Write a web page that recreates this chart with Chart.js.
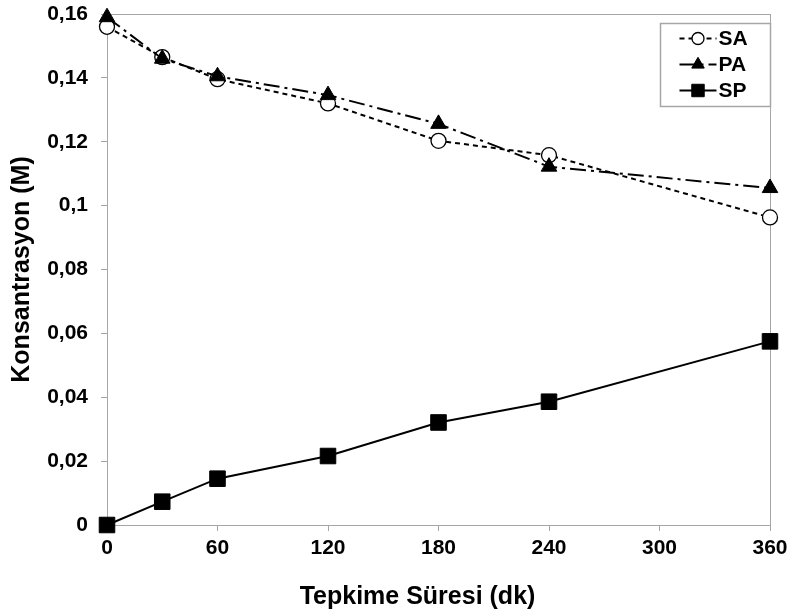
<!DOCTYPE html>
<html>
<head>
<meta charset="utf-8">
<script src="https://cdn.jsdelivr.net/npm/chart.js@4/dist/chart.umd.min.js"></script>
<style>
  html, body { margin: 0; padding: 0; background: #fff; }
  #wrap { width: 793px; height: 616px; }
</style>
</head>
<body>
<div id="wrap"><canvas id="grafik"></canvas></div>
<script>
// Tepkime süresi (dk) ve derişimler (M)
const sureler = [0, 30, 60, 120, 180, 240, 360]
const saDegerleri = [0.156, 0.1465, 0.1396, 0.132, 0.1203, 0.1158, 0.0963]
const paDegerleri = [0.159, 0.146, 0.1405, 0.1346, 0.1256, 0.1122, 0.1055]
const spDegerleri = [0, 0.0073, 0.0145, 0.0216, 0.0321, 0.0386, 0.0575]
const xTikler = [0, 60, 120, 180, 240, 300, 360]
const yTikler = [0, 0.02, 0.04, 0.06, 0.08, 0.1, 0.12, 0.14, 0.16]
const xBaslik = 'Tepkime Süresi (dk)'

const FONT = '"Liberation Sans", Arial, sans-serif'
const GRI = '#a6a6a6'

function noktalar(ys) {
    return sureler.map((x, i) => ({ x, y: ys[i] }))
}

// virgüllü ondalık gösterim (0,16 gibi)
function virgullu(v) {
    return String(Number(v.toFixed(2))).replace('.', ',')
}

// Çizim alanının çerçevesi
const cerceve = {
    id: 'cerceve',
    beforeDatasetsDraw(chart) {
        const a = chart.chartArea
        const ctx = chart.ctx
        ctx.save()
        ctx.strokeStyle = GRI
        ctx.lineWidth = 1
        ctx.strokeRect(Math.round(a.left) + 0.5, Math.round(a.top) + 0.5, Math.round(a.right - a.left), Math.round(a.bottom - a.top))
        ctx.restore()
    }
}

// x ekseni başlığı biraz sola kaymış duruyor, elle yazıyoruz
const xEkseniBasligi = {
    id: 'xEkseniBasligi',
    afterDraw(chart) {
        const a = chart.chartArea
        const ctx = chart.ctx
        ctx.save()
        ctx.fillStyle = '#000'
        ctx.font = 'bold 25px ' + FONT
        ctx.textAlign = 'center'
        ctx.textBaseline = 'middle'
        ctx.fillText(xBaslik, (a.left + a.right) / 2 - 21, chart.height - 19)
        ctx.restore()
    }
}

// Sağ üst köşedeki kutulu açıklama
const aciklama = {
    id: 'aciklama',
    afterDraw(chart) {
        const a = chart.chartArea
        const ctx = chart.ctx
        const w = 110, h = 83
        const x0 = Math.round(a.right - w) + 0.5, y0 = Math.round(a.top + 9) + 0.5
        ctx.save()
        ctx.fillStyle = '#fff'
        ctx.fillRect(x0, y0, w, h)
        ctx.strokeStyle = GRI
        ctx.lineWidth = 1.5
        ctx.strokeRect(x0, y0, w, h)
        chart.data.datasets.forEach((ds, i) => {
            const yy = y0 + 15 + i * 26
            const lx1 = x0 + 19, lx2 = x0 + 56
            ctx.strokeStyle = ds.borderColor
            ctx.lineWidth = ds.borderWidth
            ctx.setLineDash(ds.borderDash || [])
            ctx.beginPath()
            ctx.moveTo(lx1, yy)
            ctx.lineTo(lx2, yy)
            ctx.stroke()
            ctx.setLineDash([])
            ctx.fillStyle = ds.pointBackgroundColor
            ctx.strokeStyle = ds.pointBorderColor
            ctx.lineWidth = ds.pointBorderWidth
            Chart.helpers.drawPoint(ctx, {
                pointStyle: ds.pointStyle,
                radius: ds.pointRadius * 0.8,
                borderWidth: ds.pointBorderWidth
            }, (lx1 + lx2) / 2, yy)
            ctx.fillStyle = '#000'
            ctx.font = 'bold 21px ' + FONT
            ctx.textBaseline = 'middle'
            ctx.fillText(ds.label, lx2 + 2, yy + 1)
        })
        ctx.restore()
    }
}

const ctx = document.getElementById('grafik')
const grafik = new Chart(ctx, {
    type: 'line',
    data: {
        datasets: [
            {
                label: 'SA', data: noktalar(saDegerleri), order: 2,
                borderColor: '#000', borderWidth: 2, borderDash: [5, 4],
                pointStyle: 'circle', pointRadius: 7.5, pointBorderWidth: 1.3,
                pointBackgroundColor: '#fff', pointBorderColor: '#000'
            },
            {
                label: 'PA', data: noktalar(paDegerleri), order: 1,
                borderColor: '#000', borderWidth: 2, borderDash: [16, 5, 3, 5],
                pointStyle: 'triangle', pointRadius: 9, pointBorderWidth: 1,
                pointBackgroundColor: '#000', pointBorderColor: '#000'
            },
            {
                label: 'SP', data: noktalar(spDegerleri), order: 0,
                borderColor: '#000', borderWidth: 2,
                pointStyle: 'rect', pointRadius: 11, pointBorderWidth: 1,
                pointBackgroundColor: '#000', pointBorderColor: '#000'
            }
        ]
    },
    options: {
        responsive: true,
        maintainAspectRatio: false,
        animation: false,
        clip: false,
        layout: { padding: { top: 14, right: 23, left: 0, bottom: 0 } },
        plugins: { legend: { display: false }, tooltip: { enabled: false } },
        scales: {
            x: {
                type: 'linear', min: 0, max: 360,
                afterFit: s => { s.height = 91; s.paddingLeft = 0; s.paddingRight = 0 },
                afterBuildTicks: s => { s.ticks = xTikler.map(v => ({ value: v })) },
                border: { display: false },
                grid: { drawOnChartArea: false, tickLength: 6, color: GRI },
                ticks: { color: '#000', padding: 5, maxRotation: 0, font: { family: FONT, size: 21, weight: 'bold' } }
            },
            y: {
                min: 0, max: 0.16,
                afterFit: s => { s.width = 107; s.paddingTop = 0; s.paddingBottom = 0 },
                afterBuildTicks: s => { s.ticks = yTikler.map(v => ({ value: v })) },
                border: { display: false },
                grid: { drawOnChartArea: false, tickLength: 6, color: GRI },
                ticks: { color: '#000', padding: 13, callback: v => virgullu(v), font: { family: FONT, size: 21, weight: 'bold' } },
                title: { display: true, text: 'Konsantrasyon (M)', color: '#000', padding: { top: 7, bottom: 0 }, font: { family: FONT, size: 25, weight: 'bold' } }
            }
        }
    },
    plugins: [cerceve, xEkseniBasligi, aciklama]
})
</script>
</body>
</html>
